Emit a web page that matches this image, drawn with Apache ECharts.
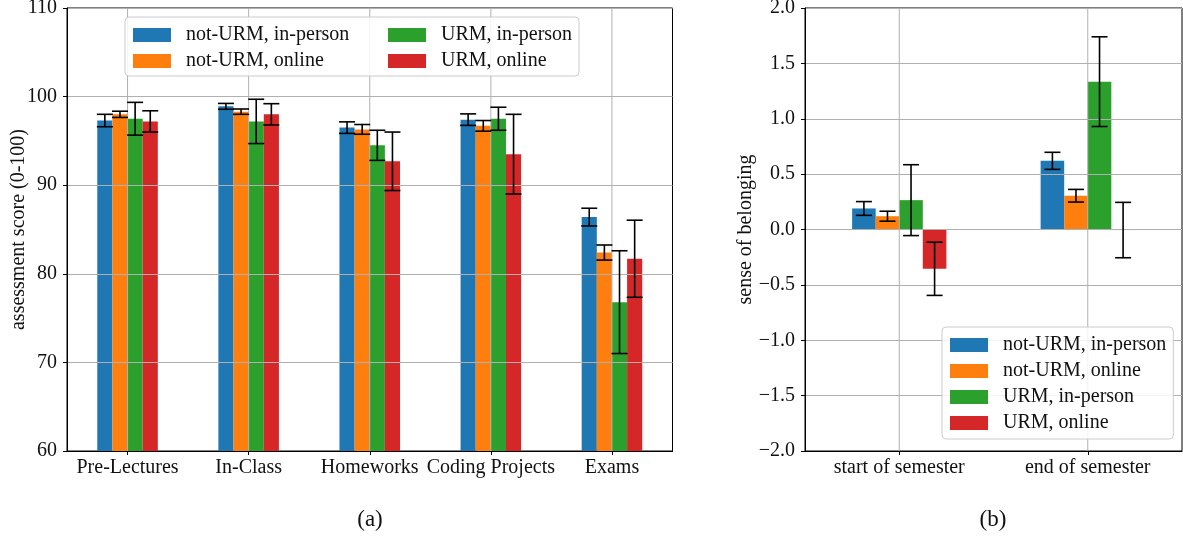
<!DOCTYPE html>
<html>
<head>
<meta charset="utf-8">
<script src="https://cdn.jsdelivr.net/npm/echarts@6/dist/echarts.min.js"></script>
<style>
html,body{margin:0;padding:0;background:#fff;}
#chart{width:1183px;height:540px;}
</style>
</head>
<body>
<div id="chart"></div>
<script>
// ---- data ----
const seriesNames = ['not-URM, in-person', 'not-URM, online', 'URM, in-person', 'URM, online'];
const seriesColors = ['#1f77b4', '#ff7f0e', '#2ca02c', '#d62728'];

// (a) assessment scores
const categoriesA = ['Pre-Lectures', 'In-Class', 'Homeworks', 'Coding Projects', 'Exams'];
const scoreNotUrmInPerson = [97.3, 98.9, 96.5, 97.4, 86.4];
const scoreNotUrmOnline   = [98.0, 98.3, 96.3, 96.7, 82.4];
const scoreUrmInPerson    = [97.5, 97.2, 94.5, 97.5, 76.8];
const scoreUrmOnline      = [97.2, 98.0, 92.7, 93.5, 81.7];
const scoreErrNotUrmInPerson = [0.7, 0.33, 0.65, 0.65, 1.0];
const scoreErrNotUrmOnline   = [0.35, 0.3, 0.55, 0.6, 0.85];
const scoreErrUrmInPerson    = [1.85, 2.5, 1.7, 1.3, 5.8];
const scoreErrUrmOnline      = [1.2, 1.2, 3.3, 4.5, 4.35];
const ticksA = [60, 70, 80, 90, 100, 110];

// (b) sense of belonging
const categoriesB = ['start of semester', 'end of semester'];
const belongNotUrmInPerson = [0.19, 0.62];
const belongNotUrmOnline   = [0.12, 0.305];
const belongUrmInPerson    = [0.265, 1.335];
const belongUrmOnline      = [-0.355, -0.005];
const belongErrNotUrmInPerson = [0.062, 0.077];
const belongErrNotUrmOnline   = [0.045, 0.057];
const belongErrUrmInPerson    = [0.32, 0.405];
const belongErrUrmOnline      = [0.24, 0.25];
const ticksB = [-2.0, -1.5, -1.0, -0.5, 0.0, 0.5, 1.0, 1.5, 2.0];

// ---- build ----
const FONT = 'Liberation Serif';
const TXT = '#111';
const valsA = [scoreNotUrmInPerson, scoreNotUrmOnline, scoreUrmInPerson, scoreUrmOnline];
const errsA = [scoreErrNotUrmInPerson, scoreErrNotUrmOnline, scoreErrUrmInPerson, scoreErrUrmOnline];
const valsB = [belongNotUrmInPerson, belongNotUrmOnline, belongUrmInPerson, belongUrmOnline];
const errsB = [belongErrNotUrmInPerson, belongErrNotUrmOnline, belongErrUrmInPerson, belongErrUrmOnline];

function errRender(k) {
  return function (params, api) {
    const i = api.value(0), v = api.value(1), e = api.value(2);
    const band = api.size([1, 0])[0];
    const off = (k - 1.5) * band * 0.125;
    const x = api.coord([i, v])[0] + off;
    const yt = api.coord([i, v + e])[1];
    const yb = api.coord([i, v - e])[1];
    const st = { stroke: '#000', lineWidth: 1.6 };
    return {
      type: 'group',
      children: [
        { type: 'line', shape: { x1: x, y1: yt, x2: x, y2: yb }, style: st },
        { type: 'line', shape: { x1: x - 8, y1: yt, x2: x + 8, y2: yt }, style: st },
        { type: 'line', shape: { x1: x - 8, y1: yb, x2: x + 8, y2: yb }, style: st }
      ]
    };
  };
}
function vGridRender(params, api) {
  const x = api.coord([api.value(0), api.value(1)])[0];
  const cs = params.coordSys;
  return { type: 'line', shape: { x1: x, y1: cs.y, x2: x, y2: cs.y + cs.height },
           style: { stroke: '#b0b0b0', lineWidth: 1 } };
}

const series = [];
[[valsA, errsA, categoriesA, ticksA, 0], [valsB, errsB, categoriesB, ticksB, 1]].forEach(([vals, errs, cats, ticks, g]) => {
  vals.forEach((arr, k) => {
    series.push({
      type: 'bar', name: seriesNames[k], xAxisIndex: g, yAxisIndex: g,
      data: arr, barWidth: '12.5%', barGap: '0%', itemStyle: { color: seriesColors[k] },
      z: 2, silent: true
    });
  });
  series.push({
    type: 'custom', name: 'vgrid' + g, xAxisIndex: g, yAxisIndex: g, z: 3, silent: true,
    renderItem: vGridRender, encode: { x: 0, y: 1 }, data: cats.map((c, i) => [i, ticks[0]])
  });
  vals.forEach((arr, k) => {
    series.push({
      type: 'custom', name: 'err' + g + '_' + k, xAxisIndex: g, yAxisIndex: g, z: 5, silent: true,
      renderItem: errRender(k), encode: { x: 0, y: 1 },
      data: arr.map((v, i) => [i, v, errs[k][i]])
    });
  });
});

const axisLine = { show: true, onZero: false, lineStyle: { color: '#000', width: 1 } };
const tick = { show: true, length: 4, lineStyle: { color: '#000', width: 1 } };
const lbl = { fontFamily: FONT, fontSize: 20, color: TXT };

function xAx(cats, g) {
  return {
    type: 'category', gridIndex: g, data: cats, z: 3,
    axisLine: axisLine, axisTick: Object.assign({ alignWithLabel: true }, tick),
    axisLabel: Object.assign({ margin: 7, interval: 0, hideOverlap: false }, lbl),
    splitLine: { show: false }
  };
}
function yAx(g, ticks, name, gap, fmt) {
  return {
    type: 'value', gridIndex: g, min: ticks[0], max: ticks[ticks.length - 1], interval: ticks[1] - ticks[0], z: 3,
    name: name, nameLocation: 'middle', nameGap: gap, nameMoveOverlap: false,
    nameTextStyle: { fontFamily: FONT, fontSize: 20, color: TXT },
    axisLine: axisLine, axisTick: tick,
    axisLabel: Object.assign({ margin: 10, formatter: fmt, showMinLabel: true, showMaxLabel: true }, lbl),
    splitLine: { show: true, lineStyle: { color: '#b0b0b0', width: 1 } }
  };
}

const legendBase = {
  orient: 'vertical', itemWidth: 38, itemHeight: 14, itemGap: 6, icon: 'rect',
  selectedMode: false, z: 11,
  textStyle: { fontFamily: FONT, fontSize: 20, color: TXT, padding: [0, 0, 0, 10] }
};

const option = {
  animation: false,
  backgroundColor: '#fff',
  grid: [
    { left: 67, top: 8, width: 605.5, height: 443, outerBoundsMode: 'none', containLabel: false,
      show: true, borderColor: '#000', borderWidth: 1, backgroundColor: 'transparent' },
    { left: 805, top: 8, width: 377, height: 443, outerBoundsMode: 'none', containLabel: false,
      show: true, borderColor: '#000', borderWidth: 1, backgroundColor: 'transparent' }
  ],
  xAxis: [xAx(categoriesA, 0), xAx(categoriesB, 1)],
  yAxis: [
    yAx(0, ticksA, 'assessment score (0-100)', 38, v => String(v)),
    yAx(1, ticksB, 'sense of belonging', 49, v => (v < 0 ? '\u2212' : '') + Math.abs(v).toFixed(1))
  ],
  legend: [
    Object.assign({}, legendBase, { data: [seriesNames[0], seriesNames[1]], left: 133, top: 25, padding: 0 }),
    Object.assign({}, legendBase, { data: [seriesNames[2], seriesNames[3]], left: 388, top: 25, padding: 0 }),
    Object.assign({}, legendBase, {
      data: seriesNames, left: 942, top: 327, padding: [8, 7, 6, 8],
      backgroundColor: 'rgba(255,255,255,0.85)', borderColor: '#cccccc', borderWidth: 1, borderRadius: 4
    })
  ],
  graphic: [
    { type: 'rect', z: 10, shape: { x: 125, y: 17, width: 454, height: 59, r: 4 },
      style: { fill: 'rgba(255,255,255,0.85)', stroke: '#cccccc', lineWidth: 1 } },
    { type: 'text', x: 370, y: 520, z: 10, style: { text: '(a)', font: '23px "Liberation Serif"', fill: TXT, align: 'center', verticalAlign: 'middle' } },
    { type: 'text', x: 993, y: 520, z: 10, style: { text: '(b)', font: '23px "Liberation Serif"', fill: TXT, align: 'center', verticalAlign: 'middle' } }
  ],
  series: series
};

const chart = echarts.init(document.getElementById('chart'), null, { renderer: 'canvas' });
chart.setOption(option);
</script>
</body>
</html>
